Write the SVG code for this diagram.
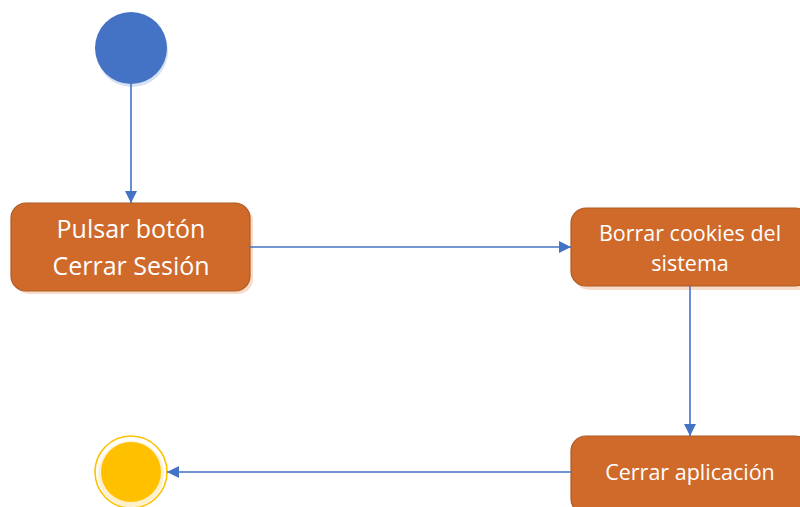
<svg xmlns="http://www.w3.org/2000/svg" width="800" height="507" viewBox="0 0 800 507">
<style>
.box{fill:#CF6A2B;stroke:#AE5A22;stroke-width:1.2}
.shadow{fill:#F7DCCB}
.lbl{font-family:"Open Sans","Noto Sans",sans-serif;fill:#FFFFFF;text-anchor:middle}
.conn{stroke:#4472C4;stroke-width:1.6;fill:none}
</style>
<defs>
<marker id="ah" viewBox="0 0 10 10" refX="10" refY="5" markerWidth="12" markerHeight="12" markerUnits="userSpaceOnUse" orient="auto">
<path d="M0,0 L10,5 L0,10 z" fill="#4472C4"/>
</marker>
</defs>
<rect width="800" height="507" fill="#FFFFFF"/>
<g id="start">
<circle cx="132" cy="51" r="36" fill="#D6E0F3"/>
<circle cx="131" cy="48" r="36" fill="#4472C4"/>
</g>
<g id="node-pulsar">
<rect class="shadow" x="14" y="206" width="239" height="88" rx="15"/>
<rect class="box" x="11" y="203" width="239" height="88" rx="15"/>
<text class="lbl" font-size="25" x="131" y="238">Pulsar botón</text>
<text class="lbl" font-size="25" x="131" y="275">Cerrar Sesión</text>
</g>
<g id="node-borrar">
<rect class="shadow" x="574" y="211" width="239" height="79" rx="15"/>
<rect class="box" x="571" y="208" width="239" height="78" rx="15"/>
<text class="lbl" font-size="21.5" x="690" y="241">Borrar cookies del</text>
<text class="lbl" font-size="21.5" x="690" y="271">sistema</text>
</g>
<g id="node-cerrar">
<rect class="shadow" x="574" y="439" width="239" height="79" rx="15"/>
<rect class="box" x="571" y="436" width="239" height="78" rx="15"/>
<text class="lbl" font-size="21.5" x="690" y="480">Cerrar aplicación</text>
</g>
<g id="end">
<circle cx="131" cy="474" r="33" fill="#FFF0CC"/>
<circle cx="131" cy="472" r="36" fill="none" stroke="#FFC000" stroke-width="1.6"/>
<circle cx="131" cy="472" r="30" fill="#FFC000"/>
</g>
<g id="connectors">
<line class="conn" x1="131" y1="84" x2="131" y2="203" marker-end="url(#ah)"/>
<line class="conn" x1="250" y1="247" x2="571" y2="247" marker-end="url(#ah)"/>
<line class="conn" x1="690" y1="286" x2="690" y2="436" marker-end="url(#ah)"/>
<line class="conn" x1="571" y1="472" x2="167" y2="472" marker-end="url(#ah)"/>
</g>
</svg>
